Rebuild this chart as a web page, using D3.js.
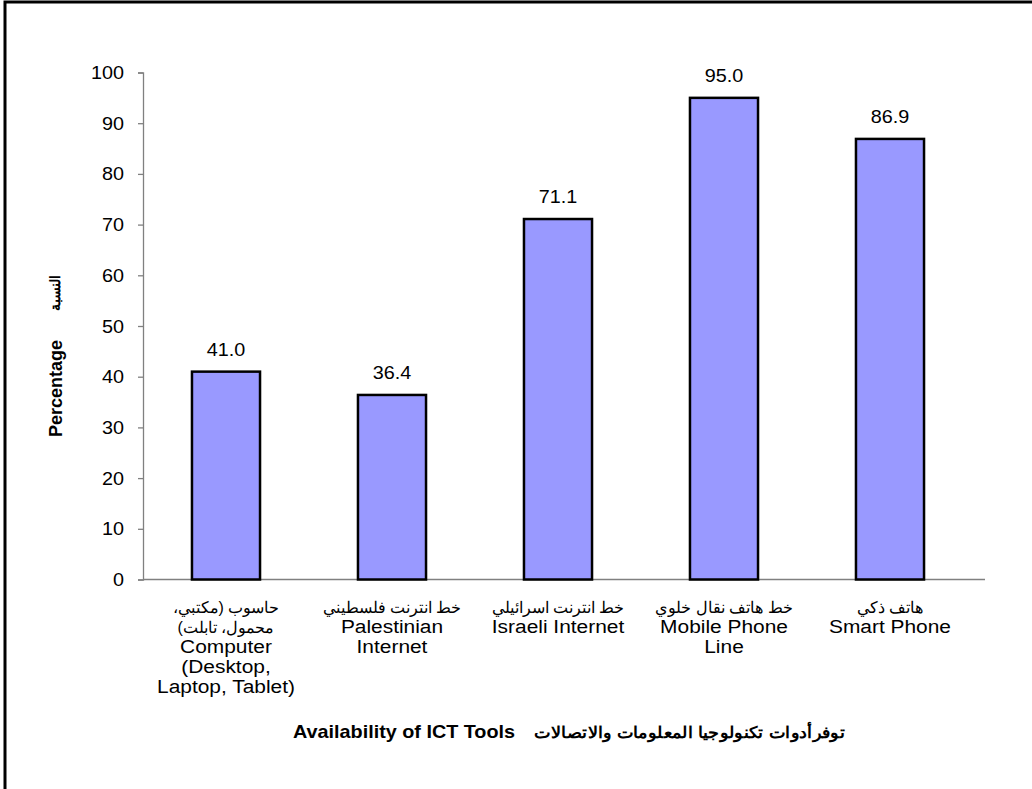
<!DOCTYPE html>
<html>
<head>
<meta charset="utf-8">
<script src="https://cdn.jsdelivr.net/npm/d3@7"></script>
<style>
  html, body { margin: 0; padding: 0; background: #fff; }
  svg { display: block; }
  text { font-family: "Liberation Sans", Arial, sans-serif; fill: #000; }
</style>
</head>
<body>
<svg id="chart" width="1032" height="789"></svg>
<script>
// ---- data ----
const categoriesAr = [
  ["حاسوب (مكتبي،", "محمول، تابلت)"],
  ["خط انترنت فلسطيني"],
  ["خط انترنت اسرائيلي"],
  ["خط هاتف نقال خلوي"],
  ["هاتف ذكي"]
];
const categoriesEn = [
  ["Computer", "(Desktop,", "Laptop, Tablet)"],
  ["Palestinian", "Internet"],
  ["Israeli Internet"],
  ["Mobile Phone", "Line"],
  ["Smart Phone"]
];
const values = [41.0, 36.4, 71.1, 95.0, 86.9];
const yTicks = [0, 10, 20, 30, 40, 50, 60, 70, 80, 90, 100];
const yTitleEn = "Percentage";
const yTitleAr = "النسبة";
const xTitleEn = "Availability of ICT Tools";
const xTitleAr = "توفرأدوات تكنولوجيا المعلومات والاتصالات";

// ---- layout ----
const SX = 1.1;      // horizontal text stretch
const FS = 18;
const plotL = 143, plotR = 973, plotT = 72.5, plotB = 579.5;

const svg = d3.select("#chart");

// border
svg.append("path")
  .attr("d", "M5,789 V2 H1032")
  .attr("fill", "none")
  .attr("stroke", "#000")
  .attr("stroke-width", 3);

const idx = values.map((d, i) => i);
const x = d3.scaleBand().domain(idx).range([plotL, plotR])
  .paddingInner(0.59).paddingOuter(0.295);
const y = d3.scaleLinear().domain([0, 100]).range([plotB, plotT]);

function stretchedText(g, tx, ty, str, opts = {}) {
  const sx = opts.sx !== undefined ? opts.sx : SX;
  const t = g.append("text")
    .attr("transform", `translate(${tx},${ty}) scale(${sx},1)`)
    .attr("font-size", opts.size || FS)
    .attr("text-anchor", opts.anchor || "middle")
    .text(str);
  if (opts.bold) t.attr("font-weight", "bold");
  if (opts.dir) t.attr("direction", opts.dir);
  return t;
}

// y axis
const yAxis = d3.axisLeft(y).tickValues(yTicks).tickSize(5).tickFormat(d3.format("d"));
const yg = svg.append("g").attr("transform", `translate(${plotL},0)`).call(yAxis);
yg.select(".domain").attr("stroke", "#808080").attr("stroke-width", 1.3);
yg.selectAll(".tick line").attr("stroke", "#808080").attr("stroke-width", 1.3);
yg.selectAll(".tick text").remove();
yTicks.forEach(t => {
  stretchedText(svg, 124, y(t) + 6.5, String(t), { anchor: "end" });
});

// x axis line
const xg = svg.append("g").attr("transform", `translate(0,${plotB})`)
  .call(d3.axisBottom(x).tickSize(0).tickFormat(""));
xg.select(".domain").attr("stroke", "#808080").attr("stroke-width", 1.3)
  .attr("d", `M${plotL},0H${plotR + 12}`);

// bars
svg.append("g").selectAll("rect").data(values).join("rect")
  .attr("x", (d, i) => x(i))
  .attr("y", d => y(d))
  .attr("width", x.bandwidth())
  .attr("height", d => y(0) - y(d))
  .attr("fill", "#9999FF")
  .attr("stroke", "#000")
  .attr("stroke-width", 2.5);

// value labels
values.forEach((v, i) => {
  stretchedText(svg, x(i) + x.bandwidth() / 2, y(v) - 16, v.toFixed(1));
});

// category labels
categoriesAr.forEach((arLines, i) => {
  const cx = x(i) + x.bandwidth() / 2;
  let by = 613;
  arLines.forEach(l => {
    stretchedText(svg, cx, by, l, { dir: "rtl", size: 16, sx: 1.0 });
    by += 20;
  });
  categoriesEn[i].forEach(l => {
    stretchedText(svg, cx, by, l, { size: 19 });
    by += 20;
  });
});

// x title
stretchedText(svg, 293, 738, xTitleEn, { anchor: "start", bold: true });
stretchedText(svg, 845, 738, xTitleAr, { anchor: "end", bold: true, size: 16 });

// y title (rotated)
svg.append("text")
  .attr("transform", "translate(62,437) rotate(-90)")
  .attr("font-size", FS).attr("font-weight", "bold")
  .attr("text-anchor", "start")
  .text(yTitleEn);
svg.append("text")
  .attr("transform", "translate(60,293) rotate(-90)")
  .attr("font-size", 14).attr("font-weight", "bold")
  .attr("text-anchor", "middle")
  .attr("direction", "rtl")
  .text(yTitleAr);
</script>
</body>
</html>
